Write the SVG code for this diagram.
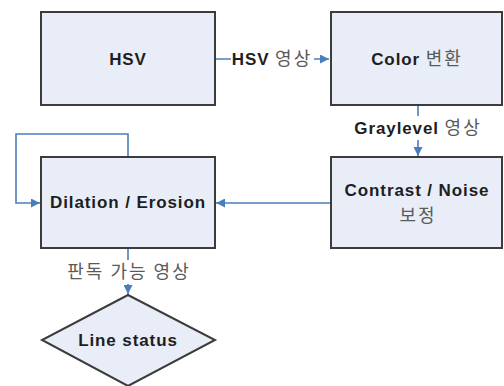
<svg xmlns="http://www.w3.org/2000/svg" width="504" height="386" viewBox="0 0 504 386">
<defs>
<style>
.box{fill:#e8edf8;stroke:#3c3c3c;stroke-width:2}
.c{fill:none;stroke:#4a7ebb;stroke-width:1.6}
.t{font-family:"Liberation Sans",Arial,sans-serif;font-weight:bold;font-size:17px;letter-spacing:0.9px;fill:#1e1e1e;text-anchor:middle}
.k{font-family:"Noto Sans CJK KR",sans-serif;font-weight:normal;fill:#5a5a5a;font-size:18px;letter-spacing:2px}
.lbl{fill:#fff}
</style>
<marker id="ah" viewBox="0 0 10 10" refX="10" refY="5" markerWidth="9" markerHeight="9" markerUnits="userSpaceOnUse" orient="auto">
<path d="M0,0 L10,5 L0,10 z" fill="#4a7ebb"/>
</marker>
</defs>
<rect width="504" height="386" fill="#fff"/>
<g id="connectors">
<path class="c" d="M215,59 H329" marker-end="url(#ah)"/>
<path class="c" d="M418,105 V156" marker-end="url(#ah)"/>
<path class="c" d="M331,203 H216" marker-end="url(#ah)"/>
<path class="c" d="M128,157 V134 H16 V203 H40" marker-end="url(#ah)"/>
<path class="c" d="M128,249 V294" marker-end="url(#ah)"/>
</g>
<g id="label-hsv">
<rect class="lbl" x="231" y="47" width="83" height="24"/>
<text class="t" x="272" y="65">HSV <tspan class="k">영상</tspan></text>
</g>
<g id="label-gray">
<rect class="lbl" x="351" y="116" width="134" height="24"/>
<text class="t" x="418" y="134">Graylevel <tspan class="k">영상</tspan></text>
</g>
<g id="label-pandok">
<rect class="lbl" x="64" y="260" width="128" height="24"/>
<text class="t k" x="129" y="278">판독 가능 영상</text>
</g>
<g id="hsv">
<rect class="box" x="41" y="12" width="174" height="93"/>
<text class="t" x="128" y="65">HSV</text>
</g>
<g id="color">
<rect class="box" x="331" y="12" width="171" height="93"/>
<text class="t" x="417" y="65">Color <tspan class="k">변환</tspan></text>
</g>
<g id="contrast">
<rect class="box" x="331" y="157" width="171" height="91"/>
<text class="t" x="417" y="196">Contrast / Noise</text>
<text class="t k" x="418" y="222">보정</text>
</g>
<g id="dilation">
<rect class="box" x="41" y="157" width="174" height="91"/>
<text class="t" x="128" y="208">Dilation / Erosion</text>
</g>
<g id="line-status">
<polygon class="box" points="128,295 215,340 128,386 42,340"/>
<text class="t" x="128" y="346">Line status</text>
</g>
</svg>
